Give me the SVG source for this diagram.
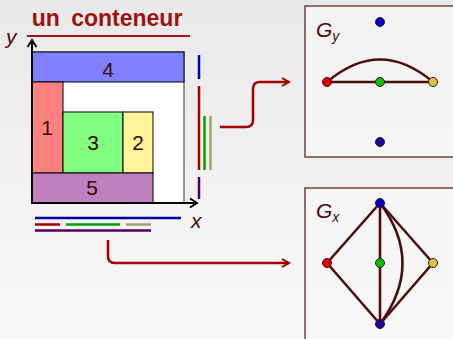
<svg xmlns="http://www.w3.org/2000/svg" width="453" height="339" viewBox="0 0 453 339">
<defs>
<linearGradient id="bg" x1="0" y1="0" x2="0" y2="1">
<stop offset="0" stop-color="#e9e9e9"/>
<stop offset="0.5" stop-color="#f1f1f1"/>
<stop offset="1" stop-color="#f9f9fa"/>
</linearGradient>
<marker id="ah" markerWidth="10" markerHeight="10" refX="8" refY="5" orient="auto" markerUnits="userSpaceOnUse">
<path d="M1,1 L8,5 L1,9" fill="none" stroke="#a00000" stroke-width="2"/>
</marker>
<marker id="ak" markerWidth="12" markerHeight="12" refX="9" refY="6" orient="auto" markerUnits="userSpaceOnUse">
<path d="M2,1.5 L9,6 L2,10.5" fill="none" stroke="#000" stroke-width="2"/>
</marker>
</defs>
<style>
.lbl{font-family:"Liberation Sans",Arial,sans-serif;font-size:21px;fill:#3a0808;text-anchor:middle}
.it{font-family:"Liberation Sans",Arial,sans-serif;font-style:italic;fill:#4a0a0a}
.blk{stroke:#000;stroke-width:1}
.edge{stroke:#4a1010;stroke-width:2.6;fill:none}
.nd{stroke:#3a1010;stroke-width:1}
.box{fill:#f6f6f6;fill-opacity:0.7;stroke:#704040;stroke-width:1.5}
.conn{stroke:#a00000;stroke-width:2.5;fill:none}
.proj{stroke-width:2.5}
</style>
<rect width="453" height="339" fill="url(#bg)"/>
<g id="title">
<text x="107" y="26" font-family="Liberation Sans,Arial,sans-serif" font-size="23" font-weight="bold" fill="#a01010" text-anchor="middle" word-spacing="5">un conteneur</text>
<line x1="27" y1="36" x2="190" y2="36" stroke="#a01010" stroke-width="2"/>
</g>
<g id="container">
<rect x="32" y="52" width="152" height="151" fill="#ffffff" stroke="#555" stroke-width="1.2"/>
</g>
<g id="r4"><rect x="32" y="52" width="152" height="30" fill="#8080ff" class="blk"/><text class="lbl" x="108" y="77">4</text></g>
<g id="r1"><rect x="32" y="82" width="31" height="91" fill="#ff8080" class="blk"/><text class="lbl" x="47" y="135">1</text></g>
<g id="r3"><rect x="63" y="112" width="60" height="61" fill="#80ff80" class="blk"/><text class="lbl" x="93" y="150">3</text></g>
<g id="r2"><rect x="123" y="112" width="30" height="61" fill="#fff598" class="blk"/><text class="lbl" x="138" y="150">2</text></g>
<g id="r5"><rect x="32" y="173" width="121" height="30" fill="#c080c0" class="blk"/><text class="lbl" x="92" y="195">5</text></g>
<g id="axes">
<line x1="32" y1="204" x2="32" y2="40" stroke="#000" stroke-width="2" marker-end="url(#ak)"/>
<line x1="31" y1="203" x2="197" y2="203" stroke="#000" stroke-width="2" marker-end="url(#ak)"/>
<text class="it" x="6" y="44" font-size="21">y</text>
<text class="it" x="191" y="228" font-size="21">x</text>
</g>
<g id="projections">
<line class="proj" x1="35" y1="218" x2="181" y2="218" stroke="#0000a0"/>
<line class="proj" x1="35" y1="224.5" x2="60" y2="224.5" stroke="#a00000"/>
<line class="proj" x1="66" y1="224.5" x2="120" y2="224.5" stroke="#00a000"/>
<line class="proj" x1="126" y1="224.5" x2="151" y2="224.5" stroke="#a0a070"/>
<line class="proj" x1="35" y1="230.5" x2="151" y2="230.5" stroke="#500060"/>
<line class="proj" x1="199" y1="55" x2="199" y2="79" stroke="#0000a0"/>
<line class="proj" x1="199" y1="86" x2="199" y2="170" stroke="#a00000"/>
<line class="proj" x1="204.5" y1="116" x2="204.5" y2="170" stroke="#00a000"/>
<line class="proj" x1="210.5" y1="116" x2="210.5" y2="170" stroke="#a0a070"/>
<line class="proj" x1="199" y1="177" x2="199" y2="199" stroke="#500060"/>
</g>
<g id="connectors">
<path class="conn" d="M220,127 H246 Q253,127 253,120 V89 Q253,82 260,82 H289" marker-end="url(#ah)"/>
<path class="conn" d="M108,240 V256 Q108,263 115,263 H289" marker-end="url(#ah)"/>
</g>
<g id="Gy">
<rect class="box" x="305" y="6" width="160" height="151"/>
<text class="it" x="316" y="37" font-size="21">G<tspan font-size="14" dy="4">y</tspan></text>
<path class="edge" d="M327,82 Q380,37 433,82"/>
<line class="edge" x1="327" y1="82" x2="433" y2="82"/>
<circle class="nd" cx="380" cy="22" r="4.5" fill="#0000d0"/>
<circle class="nd" cx="327" cy="82" r="4.5" fill="#e00000"/>
<circle class="nd" cx="380" cy="82" r="4.5" fill="#00c000"/>
<circle class="nd" cx="433" cy="82" r="4.5" fill="#d8c840"/>
<circle class="nd" cx="380" cy="142" r="4.5" fill="#2000a0"/>
</g>
<g id="Gx">
<rect class="box" x="305" y="188" width="160" height="160"/>
<text class="it" x="316" y="218" font-size="21">G<tspan font-size="14" dy="4">x</tspan></text>
<line class="edge" x1="380" y1="203" x2="327" y2="263"/>
<line class="edge" x1="380" y1="203" x2="433" y2="263"/>
<line class="edge" x1="380" y1="203" x2="380" y2="324"/>
<line class="edge" x1="327" y1="263" x2="380" y2="324"/>
<line class="edge" x1="433" y1="263" x2="380" y2="324"/>
<path class="edge" d="M380,203 Q425,263 380,324"/>
<circle class="nd" cx="380" cy="203" r="4.5" fill="#0000d0"/>
<circle class="nd" cx="327" cy="263" r="4.5" fill="#e00000"/>
<circle class="nd" cx="380" cy="263" r="4.5" fill="#00c000"/>
<circle class="nd" cx="433" cy="263" r="4.5" fill="#d8c840"/>
<circle class="nd" cx="380" cy="324" r="4.5" fill="#2000a0"/>
</g>
</svg>
